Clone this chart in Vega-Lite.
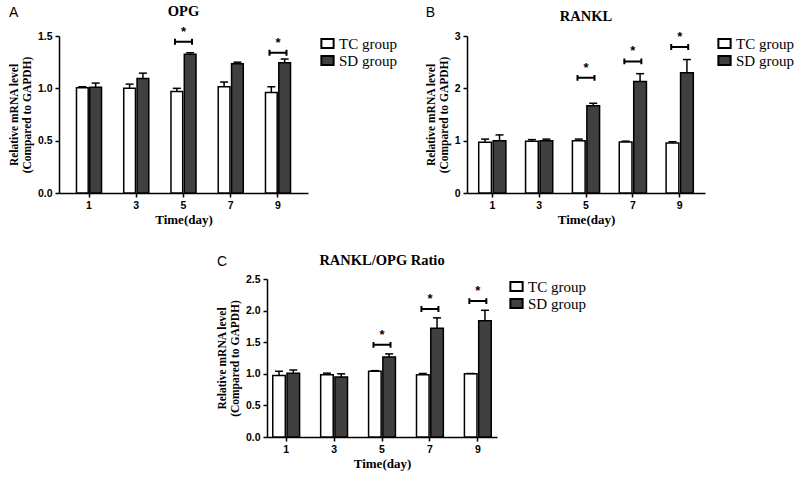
{
  "$schema": "https://vega.github.io/schema/vega-lite/v6.json",
  "padding": {"left": 8, "top": 4, "right": 5, "bottom": 5},
  "background": "white",
  "datasets": {
    "A": [
      {"day": 1, "group": "TC group", "value": 1.005, "top": 1.015},
      {"day": 1, "group": "SD group", "value": 1.01, "top": 1.05},
      {"day": 3, "group": "TC group", "value": 1.0, "top": 1.04},
      {"day": 3, "group": "SD group", "value": 1.095, "top": 1.145},
      {"day": 5, "group": "TC group", "value": 0.97, "top": 1.0},
      {"day": 5, "group": "SD group", "value": 1.325, "top": 1.34},
      {"day": 7, "group": "TC group", "value": 1.015, "top": 1.06},
      {"day": 7, "group": "SD group", "value": 1.235, "top": 1.25},
      {"day": 9, "group": "TC group", "value": 0.96, "top": 1.015},
      {"day": 9, "group": "SD group", "value": 1.245, "top": 1.28}
    ],
    "sigA": [
      {"day": 5, "y": 1.445},
      {"day": 9, "y": 1.34}
    ],
    "B": [
      {"day": 1, "group": "TC group", "value": 0.97, "top": 1.03},
      {"day": 1, "group": "SD group", "value": 1.0, "top": 1.11},
      {"day": 3, "group": "TC group", "value": 0.99, "top": 1.02},
      {"day": 3, "group": "SD group", "value": 1.0, "top": 1.03},
      {"day": 5, "group": "TC group", "value": 1.0, "top": 1.03},
      {"day": 5, "group": "SD group", "value": 1.665, "top": 1.715},
      {"day": 7, "group": "TC group", "value": 0.975, "top": 0.99},
      {"day": 7, "group": "SD group", "value": 2.13, "top": 2.28},
      {"day": 9, "group": "TC group", "value": 0.955, "top": 0.98},
      {"day": 9, "group": "SD group", "value": 2.3, "top": 2.55}
    ],
    "sigB": [
      {"day": 5, "y": 2.2},
      {"day": 7, "y": 2.515},
      {"day": 9, "y": 2.79}
    ],
    "C": [
      {"day": 1, "group": "TC group", "value": 0.975, "top": 1.04},
      {"day": 1, "group": "SD group", "value": 1.01, "top": 1.06},
      {"day": 3, "group": "TC group", "value": 0.985, "top": 1.01},
      {"day": 3, "group": "SD group", "value": 0.95, "top": 1.0},
      {"day": 5, "group": "TC group", "value": 1.04, "top": 1.05},
      {"day": 5, "group": "SD group", "value": 1.265, "top": 1.315},
      {"day": 7, "group": "TC group", "value": 0.985, "top": 1.005},
      {"day": 7, "group": "SD group", "value": 1.72, "top": 1.885},
      {"day": 9, "group": "TC group", "value": 1.0, "top": 1.005},
      {"day": 9, "group": "SD group", "value": 1.84, "top": 2.005}
    ],
    "sigC": [
      {"day": 5, "y": 1.458},
      {"day": 7, "y": 2.026},
      {"day": 9, "y": 2.15}
    ]
  },
  "vconcat": [
    {
      "hconcat": [
        {
          "title": {"text": "A", "anchor": "start", "frame": "bounds", "offset": -16, "font": "Liberation Sans", "fontSize": 14, "fontWeight": "normal"},
          "vconcat": [
            {
              "width": 249,
              "height": 157,
              "title": {"text": "OPG", "frame": "group", "offset": 6},
              "layer": [
                {
                  "data": {"name": "A"},
                  "mark": {"type": "bar", "stroke": "black", "strokeWidth": 1.5},
                  "encoding": {
                    "x": {"field": "day", "type": "ordinal", "scale": {"paddingInner": 0.47, "paddingOuter": 0.37}, "axis": {"title": "Time(day)", "labelAngle": 0}},
                    "xOffset": {"field": "group", "type": "nominal", "sort": ["TC group", "SD group"], "scale": {"paddingInner": 0.12}},
                    "y": {"field": "value", "type": "quantitative", "scale": {"domain": [0, 1.5], "nice": false}, "axis": {"title": ["Relative mRNA level", "(Compared to GAPDH)"], "values": [0, 0.5, 1, 1.5], "format": ".1f"}},
                    "fill": {"field": "group", "type": "nominal", "sort": ["TC group", "SD group"], "scale": {"domain": ["TC group", "SD group"], "range": ["white", "#404040"]}, "legend": {"title": null}}
                  }
                },
                {
                  "data": {"name": "A"},
                  "mark": {"type": "rule", "strokeWidth": 1.5, "color": "black"},
                  "encoding": {
                    "x": {"field": "day", "type": "ordinal", "axis": {"title": "Time(day)", "labelAngle": 0}},
                    "xOffset": {"field": "group", "type": "nominal", "sort": ["TC group", "SD group"]},
                    "y": {"field": "value", "type": "quantitative", "axis": {"title": ["Relative mRNA level", "(Compared to GAPDH)"], "values": [0, 0.5, 1, 1.5], "format": ".1f"}},
                    "y2": {"field": "top"}
                  }
                },
                {
                  "data": {"name": "A"},
                  "mark": {"type": "tick", "thickness": 1.5, "size": 8, "color": "black", "opacity": 1},
                  "encoding": {
                    "x": {"field": "day", "type": "ordinal", "axis": {"title": "Time(day)", "labelAngle": 0}},
                    "xOffset": {"field": "group", "type": "nominal", "sort": ["TC group", "SD group"]},
                    "y": {"field": "top", "type": "quantitative", "axis": {"title": ["Relative mRNA level", "(Compared to GAPDH)"], "values": [0, 0.5, 1, 1.5], "format": ".1f"}}
                  }
                },
                {
                  "data": {"name": "sigA"},
                  "mark": {"type": "point", "shape": "M-1,-0.35V0.35M-1,0H1M1,-0.35V0.35", "size": 289, "filled": false, "stroke": "black", "strokeWidth": 2, "opacity": 1},
                  "encoding": {
                    "x": {"field": "day", "type": "ordinal", "axis": {"title": "Time(day)", "labelAngle": 0}},
                    "y": {"field": "y", "type": "quantitative", "axis": {"title": ["Relative mRNA level", "(Compared to GAPDH)"], "values": [0, 0.5, 1, 1.5], "format": ".1f"}}
                  }
                },
                {
                  "data": {"name": "sigA"},
                  "mark": {"type": "text", "text": "*", "fontSize": 13, "fontWeight": "bold", "font": "Liberation Sans", "baseline": "alphabetic", "dy": -6, "color": "black"},
                  "encoding": {
                    "x": {"field": "day", "type": "ordinal", "axis": {"title": "Time(day)", "labelAngle": 0}},
                    "y": {"field": "y", "type": "quantitative", "axis": {"title": ["Relative mRNA level", "(Compared to GAPDH)"], "values": [0, 0.5, 1, 1.5], "format": ".1f"}}
                  }
                }
              ]
            }
          ]
        },
        {
          "title": {"text": "B", "anchor": "start", "frame": "bounds", "offset": -11, "font": "Liberation Sans", "fontSize": 14, "fontWeight": "normal"},
          "vconcat": [
            {
              "width": 238,
              "height": 157,
              "title": {"text": "RANKL", "frame": "group", "offset": 6},
              "layer": [
                {
                  "data": {"name": "B"},
                  "mark": {"type": "bar", "stroke": "black", "strokeWidth": 1.5},
                  "encoding": {
                    "x": {"field": "day", "type": "ordinal", "scale": {"paddingInner": 0.42, "paddingOuter": 0.25}, "axis": {"title": "Time(day)", "labelAngle": 0}},
                    "xOffset": {"field": "group", "type": "nominal", "sort": ["TC group", "SD group"], "scale": {"paddingInner": 0.12}},
                    "y": {"field": "value", "type": "quantitative", "scale": {"domain": [0, 3], "nice": false}, "axis": {"title": ["Relative mRNA level", "(Compared to GAPDH)"], "values": [0, 1, 2, 3], "format": "d"}},
                    "fill": {"field": "group", "type": "nominal", "sort": ["TC group", "SD group"], "scale": {"domain": ["TC group", "SD group"], "range": ["white", "#404040"]}, "legend": {"title": null}}
                  }
                },
                {
                  "data": {"name": "B"},
                  "mark": {"type": "rule", "strokeWidth": 1.5, "color": "black"},
                  "encoding": {
                    "x": {"field": "day", "type": "ordinal", "axis": {"title": "Time(day)", "labelAngle": 0}},
                    "xOffset": {"field": "group", "type": "nominal", "sort": ["TC group", "SD group"]},
                    "y": {"field": "value", "type": "quantitative", "axis": {"title": ["Relative mRNA level", "(Compared to GAPDH)"], "values": [0, 1, 2, 3], "format": "d"}},
                    "y2": {"field": "top"}
                  }
                },
                {
                  "data": {"name": "B"},
                  "mark": {"type": "tick", "thickness": 1.5, "size": 8, "color": "black", "opacity": 1},
                  "encoding": {
                    "x": {"field": "day", "type": "ordinal", "axis": {"title": "Time(day)", "labelAngle": 0}},
                    "xOffset": {"field": "group", "type": "nominal", "sort": ["TC group", "SD group"]},
                    "y": {"field": "top", "type": "quantitative", "axis": {"title": ["Relative mRNA level", "(Compared to GAPDH)"], "values": [0, 1, 2, 3], "format": "d"}}
                  }
                },
                {
                  "data": {"name": "sigB"},
                  "mark": {"type": "point", "shape": "M-1,-0.35V0.35M-1,0H1M1,-0.35V0.35", "size": 289, "filled": false, "stroke": "black", "strokeWidth": 2, "opacity": 1},
                  "encoding": {
                    "x": {"field": "day", "type": "ordinal", "axis": {"title": "Time(day)", "labelAngle": 0}},
                    "y": {"field": "y", "type": "quantitative", "axis": {"title": ["Relative mRNA level", "(Compared to GAPDH)"], "values": [0, 1, 2, 3], "format": "d"}}
                  }
                },
                {
                  "data": {"name": "sigB"},
                  "mark": {"type": "text", "text": "*", "fontSize": 13, "fontWeight": "bold", "font": "Liberation Sans", "baseline": "alphabetic", "dy": -6, "color": "black"},
                  "encoding": {
                    "x": {"field": "day", "type": "ordinal", "axis": {"title": "Time(day)", "labelAngle": 0}},
                    "y": {"field": "y", "type": "quantitative", "axis": {"title": ["Relative mRNA level", "(Compared to GAPDH)"], "values": [0, 1, 2, 3], "format": "d"}}
                  }
                }
              ]
            }
          ]
        }
      ],
      "spacing": 28,
      "resolve": {"scale": {"x": "independent", "y": "independent", "fill": "independent", "xOffset": "independent"}, "legend": {"fill": "independent"}}
    },
    {
      "title": {"text": "C", "anchor": "start", "frame": "bounds", "offset": -16, "font": "Liberation Sans", "fontSize": 14, "fontWeight": "normal"},
      "vconcat": [
        {
          "width": 230,
          "height": 158,
          "title": {"text": "RANKL/OPG Ratio", "frame": "group", "offset": 6},
          "layer": [
            {
              "data": {"name": "C"},
              "mark": {"type": "bar", "stroke": "black", "strokeWidth": 1.5},
              "encoding": {
                "x": {"field": "day", "type": "ordinal", "scale": {"paddingInner": 0.44, "paddingOuter": 0.12}, "axis": {"title": "Time(day)", "labelAngle": 0}},
                "xOffset": {"field": "group", "type": "nominal", "sort": ["TC group", "SD group"], "scale": {"paddingInner": 0.12}},
                "y": {"field": "value", "type": "quantitative", "scale": {"domain": [0, 2.5], "nice": false}, "axis": {"title": ["Relative mRNA level", "(Compared to GAPDH)"], "values": [0, 0.5, 1, 1.5, 2, 2.5], "format": ".1f"}},
                "fill": {"field": "group", "type": "nominal", "sort": ["TC group", "SD group"], "scale": {"domain": ["TC group", "SD group"], "range": ["white", "#404040"]}, "legend": {"title": null}}
              }
            },
            {
              "data": {"name": "C"},
              "mark": {"type": "rule", "strokeWidth": 1.5, "color": "black"},
              "encoding": {
                "x": {"field": "day", "type": "ordinal", "axis": {"title": "Time(day)", "labelAngle": 0}},
                "xOffset": {"field": "group", "type": "nominal", "sort": ["TC group", "SD group"]},
                "y": {"field": "value", "type": "quantitative", "axis": {"title": ["Relative mRNA level", "(Compared to GAPDH)"], "values": [0, 0.5, 1, 1.5, 2, 2.5], "format": ".1f"}},
                "y2": {"field": "top"}
              }
            },
            {
              "data": {"name": "C"},
              "mark": {"type": "tick", "thickness": 1.5, "size": 8, "color": "black", "opacity": 1},
              "encoding": {
                "x": {"field": "day", "type": "ordinal", "axis": {"title": "Time(day)", "labelAngle": 0}},
                "xOffset": {"field": "group", "type": "nominal", "sort": ["TC group", "SD group"]},
                "y": {"field": "top", "type": "quantitative", "axis": {"title": ["Relative mRNA level", "(Compared to GAPDH)"], "values": [0, 0.5, 1, 1.5, 2, 2.5], "format": ".1f"}}
              }
            },
            {
              "data": {"name": "sigC"},
              "mark": {"type": "point", "shape": "M-1,-0.35V0.35M-1,0H1M1,-0.35V0.35", "size": 289, "filled": false, "stroke": "black", "strokeWidth": 2, "opacity": 1},
              "encoding": {
                "x": {"field": "day", "type": "ordinal", "axis": {"title": "Time(day)", "labelAngle": 0}},
                "y": {"field": "y", "type": "quantitative", "axis": {"title": ["Relative mRNA level", "(Compared to GAPDH)"], "values": [0, 0.5, 1, 1.5, 2, 2.5], "format": ".1f"}}
              }
            },
            {
              "data": {"name": "sigC"},
              "mark": {"type": "text", "text": "*", "fontSize": 13, "fontWeight": "bold", "font": "Liberation Sans", "baseline": "alphabetic", "dy": -6, "color": "black"},
              "encoding": {
                "x": {"field": "day", "type": "ordinal", "axis": {"title": "Time(day)", "labelAngle": 0}},
                "y": {"field": "y", "type": "quantitative", "axis": {"title": ["Relative mRNA level", "(Compared to GAPDH)"], "values": [0, 0.5, 1, 1.5, 2, 2.5], "format": ".1f"}}
              }
            }
          ]
        }
      ]
    }
  ],
  "spacing": 25,
  "center": true,
  "resolve": {"scale": {"x": "independent", "y": "independent", "fill": "independent", "xOffset": "independent"}, "legend": {"fill": "independent"}},
  "config": {
    "view": {"stroke": null},
    "font": "Liberation Serif",
    "axis": {"domainColor": "black", "domainWidth": 1.5, "tickColor": "black", "tickWidth": 1.5, "tickSize": 4, "labelColor": "black", "labelFont": "Liberation Sans", "labelFontWeight": "bold", "labelFontSize": 10.5, "labelPadding": 3, "labelOverlap": false, "titleFont": "Liberation Serif", "titleFontWeight": "bold", "titleColor": "black", "grid": false},
    "axisX": {"titleFontSize": 13, "titlePadding": 3},
    "axisY": {"titleFontSize": 11.5, "titleLineHeight": 12.5, "titlePadding": 5},
    "title": {"font": "Liberation Serif", "fontSize": 14.5, "fontWeight": "bold", "color": "black"},
    "legend": {"labelFont": "Liberation Serif", "labelFontSize": 15, "labelColor": "black", "symbolStrokeColor": "black", "symbolStrokeWidth": 2, "symbolType": "M-1,-0.75H1V0.75H-1Z", "symbolSize": 150, "rowPadding": -2, "offset": 12, "labelOffset": 4, "symbolOpacity": 1, "padding": 0}
  }
}
